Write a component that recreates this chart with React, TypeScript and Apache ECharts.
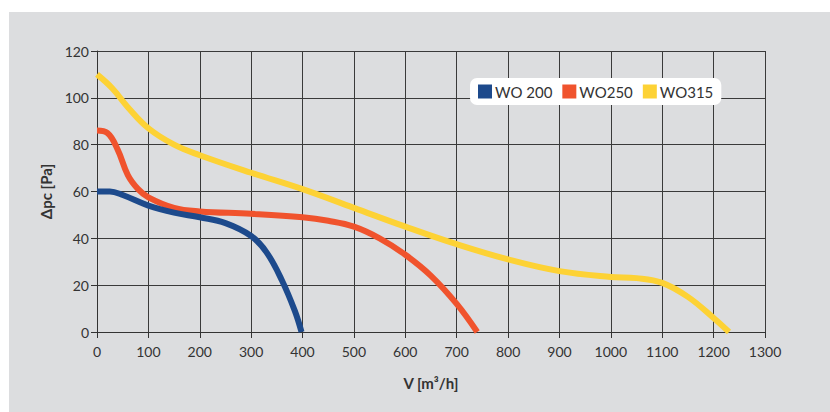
import React, { useEffect, useRef } from "react";
import * as echarts from "echarts";

const xTicks = [0, 100, 200, 300, 400, 500, 600, 700, 800, 900, 1000, 1100, 1200, 1300];
const wo200: [number, number][] = [
  [0, 60], [25, 60], [50, 58.5], [100, 54], [150, 51], [200, 49], [250, 46.5],
  [300, 41], [330, 34], [360, 22], [385, 9], [398, 0],
];
const wo250: [number, number][] = [
  [0, 86], [20, 85], [40, 78], [60, 67], [80, 61], [100, 57.5], [150, 53],
  [200, 51.5], [300, 50.5], [400, 49], [450, 47.5], [500, 45], [550, 40],
  [600, 33], [650, 24], [700, 12], [740, 0],
];
const wo315: [number, number][] = [
  [0, 110], [30, 104], [60, 96], [100, 87], [150, 80], [200, 75.5], [300, 68],
  [400, 61], [500, 53], [600, 45], [700, 37.5], [800, 31], [900, 26], [1000, 23.5],
  [1050, 23], [1100, 21], [1150, 15], [1200, 6], [1230, 0],
];
const seriesNames = ["WO 200", "WO250", "WO315"];
const colors = ["#1d4a8c", "#f0532d", "#fdd235"];

export default function App() {
  const ref = useRef<HTMLDivElement>(null);
  useEffect(() => {
    const chart = echarts.init(ref.current!, null, { renderer: "svg" });
    const font = "Lato, 'Open Sans', sans-serif";
    const datasets = [wo200, wo250, wo315];
    chart.setOption({
      animation: false,
      backgroundColor: "#ffffff",
      graphic: [
        {
          type: "rect",
          z: -10,
          silent: true,
          shape: { x: 9, y: 12, width: 821, height: 400 },
          style: { fill: "#dcdddf" },
        },
      ],
      legend: {
        left: 470,
        top: 78,
        backgroundColor: "#ffffff",
        borderRadius: 7,
        padding: [6, 8, 6, 8],
        itemWidth: 14,
        itemHeight: 14,
        itemGap: 10,
        icon: "rect",
        textStyle: { fontFamily: font, fontSize: 15, color: "#333333", padding: [0, 0, 0, -2] },
        data: seriesNames,
      },
      grid: { left: 97, top: 51, right: 65, bottom: 80 },
      xAxis: {
        type: "value",
        min: 0,
        max: 1300,
        interval: 100,
        name: "V [m³/h]",
        nameLocation: "middle",
        nameGap: 43,
        nameTextStyle: { fontFamily: font, fontSize: 15, fontWeight: "bold", color: "#333333" },
        axisLine: { show: true, lineStyle: { color: "#333333", width: 1 } },
        axisTick: { show: true, inside: false, length: 6, lineStyle: { color: "#333333" } },
        axisLabel: {
          fontFamily: font,
          fontSize: 14,
          color: "#333333",
          margin: 12,
          formatter: (v: number) => (xTicks.includes(v) ? String(v) : ""),
        },
        splitLine: { show: true, lineStyle: { color: "#3a3a3a", width: 1 } },
      },
      yAxis: {
        type: "value",
        min: 0,
        max: 120,
        interval: 20,
        name: "Δpc [Pa]",
        nameLocation: "middle",
        nameGap: 30,
        nameRotate: 90,
        nameTextStyle: { fontFamily: font, fontSize: 15, fontWeight: "bold", color: "#333333" },
        axisLine: { show: true, lineStyle: { color: "#333333", width: 1 } },
        axisTick: { show: true, inside: false, length: 6, lineStyle: { color: "#333333" } },
        axisLabel: { fontFamily: font, fontSize: 14, color: "#333333", margin: 8 },
        splitLine: { show: true, lineStyle: { color: "#3a3a3a", width: 1 } },
      },
      series: seriesNames.map((name, i) => ({
        name,
        type: "line",
        data: datasets[i],
        smooth: 0.4,
        showSymbol: false,
        symbol: "none",
        z: 5 - i,
        itemStyle: { color: colors[i] },
        lineStyle: { color: colors[i], width: 6, cap: "butt" },
      })),
    });
    return () => chart.dispose();
  }, []);
  return (
    <div
      ref={ref}
      style={{ position: "fixed", left: 0, top: 0, width: 830, height: 412 }}
    />
  );
}
